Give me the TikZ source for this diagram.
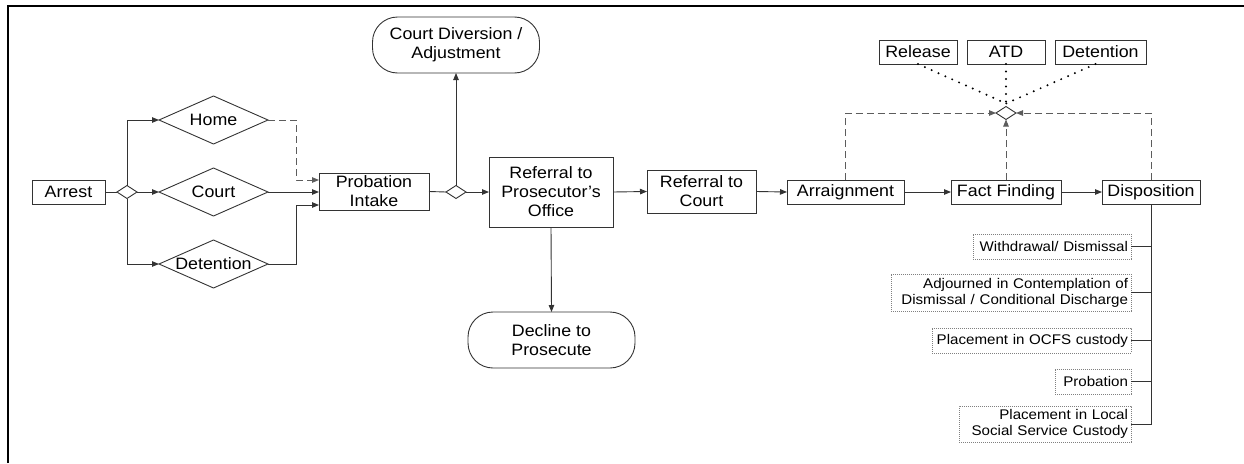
\documentclass[tikz,border=0pt]{standalone}
\usepackage{fontspec}
\setmainfont{Liberation Sans}[FakeStretch=1.08]
\usetikzlibrary{shapes.geometric,arrows.meta,calc}
\definecolor{ln}{HTML}{333333}
\begin{document}
\begin{tikzpicture}[x=1pt,y=-1pt,
  every node/.style={inner sep=0pt,outer sep=0pt,text=black,font=\fontsize{16.5}{19}\selectfont},
  box/.style={draw=ln,line width=0.9pt,rectangle,align=center},
  dia/.style={draw=ln,line width=0.9pt,diamond,aspect=2.3,minimum width=109pt,minimum height=48pt,align=center},
  smalld/.style={draw=ln,line width=0.9pt,diamond,minimum width=20pt,minimum height=13pt},
  term/.style={draw=ln,line width=0.9pt,rectangle,rounded corners=25pt,align=center,minimum width=167pt,minimum height=56pt},
  outc/.style={draw=gray,line width=0.8pt,dash pattern=on 0.8pt off 1.2pt,rectangle,align=right,inner xsep=3pt,text width=#1,font=\fontsize{14}{16}\selectfont},
  con/.style={draw=ln,line width=0.9pt},
  arr/.style={con,-{Triangle[length=7pt,width=5.5pt]}},
  dsh/.style={draw=ln!80,line width=0.9pt,dash pattern=on 7pt off 4pt},
  dtip/.style={-{Triangle[length=7pt,width=5.5pt]}},
  dts/.style={draw=black,line width=2.2pt,line cap=round,dash pattern=on 0pt off 7.5pt}
]
\useasboundingbox (0,0) rectangle (1244,463);
\draw[line width=2pt] (8,463) -- (8,6) -- (1244,6);

% left part
\node[box,minimum width=73pt,minimum height=24pt] (arrest) at (68.5,192) {Arrest};
\node[smalld] (dA) at (127,192) {};
\node[dia] (home) at (213.5,120) {Home};
\node[dia] (court) at (213.5,192) {Court};
\node[dia] (detin) at (213.5,264) {Detention};
\node[box,minimum width=110pt,minimum height=37pt] (prob) at (374,191.5) {Probation\\Intake};
\node[smalld] (dB) at (456,192) {};
\node[term] (cdiv) at (456,45) {Court Diversion /\\Adjustment};
\node[box,minimum width=124pt,minimum height=70pt] (pros) at (551,192) {Referral to\\Prosecutor's\\Office};
\node[term] (decl) at (551.5,340) {Decline to\\Prosecute};
\node[box,minimum width=109pt,minimum height=43pt] (refc) at (701.5,191.5) {Referral to\\Court};
\node[box,minimum width=117pt,minimum height=24pt] (arrg) at (845.5,192) {Arraignment};
\node[box,minimum width=110pt,minimum height=24pt] (fact) at (1006,192) {Fact Finding};
\node[box,minimum width=98pt,minimum height=24pt] (disp) at (1151,192) {Disposition};

% top
\node[box,minimum width=78pt,minimum height=24pt] (rel) at (918,52) {Release};
\node[box,minimum width=78pt,minimum height=24pt] (atd) at (1006,52) {ATD};
\node[box,minimum width=91pt,minimum height=24pt] (detn) at (1100.5,52) {Detention};
\node[smalld] (dC) at (1006,113) {};

% outcomes
\node[outc=152pt,minimum height=25pt,anchor=east] (o1) at (1131,246.5) {Withdrawal/ Dismissal};
\node[outc=234pt,minimum height=37pt,anchor=east] (o2) at (1131,292.5) {Adjourned in Contemplation of\\Dismissal / Conditional Discharge};
\node[outc=193pt,minimum height=25pt,anchor=east] (o3) at (1131,340.5) {Placement in OCFS custody};
\node[outc=70pt,minimum height=25pt,anchor=east] (o4) at (1131,381.5) {Probation};
\node[outc=166pt,minimum height=36pt,anchor=east] (o5) at (1131,424) {Placement in Local\\Social Service Custody};

% anchor points on Probation Intake
\coordinate (pinA) at ([yshift=11.5pt]prob.west);
\coordinate (pinC) at ([yshift=-13.5pt]prob.west);

% connectors left
\draw[con] (arrest.east) -- (dA.west);
\draw[arr] (dA.north) |- (home.west);
\draw[arr] (dA.east) -- (court.west);
\draw[arr] (dA.south) |- (detin.west);
\draw[dsh,dtip] (home.east) -- ++(28,0) |- (pinA);
\draw[arr] (court.east) -- (court.east -| prob.west);
\draw[arr] (detin.east) -- ++(28,0) |- (pinC);
\draw[con] (prob.east) -- (dB.west);
\draw[arr] (dB.north) -- (cdiv.south);
\draw[arr] (dB.east) -- (pros.west);
\draw[arr] (pros.south) -- (decl.north);
\draw[arr] (pros.east) -- (refc.west);
\draw[arr] (refc.east) -- (arrg.west);
\draw[arr] (arrg.east) -- (fact.west);
\draw[arr] (fact.east) -- (disp.west);

% dashed feedback
\draw[dsh,dtip] (arrg.north) |- (dC.west);
\draw[dsh,dtip] (fact.north) -- (dC.south);
\draw[dsh,dtip] (disp.north) |- (dC.east);

% dotted
\coordinate (dCt) at ([yshift=3pt]dC.north);
\coordinate (detnb) at ([xshift=-5pt]detn.south);
\draw[dts] (rel.south) -- (dCt);
\draw[dts] (atd.south) -- (dCt);
\draw[dts] (detnb) -- (dCt);

% disposition outcomes
\draw[con] (disp.south) |- (o5.east);
\draw[con] (o1.east) -- (o1.east -| disp.south);
\draw[con] (o2.east) -- (o2.east -| disp.south);
\draw[con] (o3.east) -- (o3.east -| disp.south);
\draw[con] (o4.east) -- (o4.east -| disp.south);
\end{tikzpicture}
\end{document}
